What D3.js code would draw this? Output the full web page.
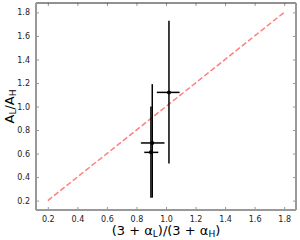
<!DOCTYPE html>
<html>
<head>
  <meta charset="utf-8">
  <script src="https://d3js.org/d3.v7.min.js"></script>
  <style>
    body { margin: 0; background: #fff; }
    text { font-family: "DejaVu Sans", sans-serif; }
  </style>
</head>
<body>
  <svg id="viz"></svg>
  <script>
    var width = 300, height = 240;
    var margin = { top: 3, right: 4, bottom: 30, left: 36 };

    // data
    var xVals = [1.02, 0.907, 0.898];
    var yVals = [1.12, 0.69, 0.61];
    var xLo = [0.938, 0.83, 0.853];
    var xHi = [1.092, 0.99, 0.948];
    var yLo = [0.515, 0.225, 0.225];
    var yHi = [1.73, 1.19, 1.0];
    var refLine = [0.2, 1.8];
    var ticks = [0.2, 0.4, 0.6, 0.8, 1.0, 1.2, 1.4, 1.6, 1.8];

    var pts = xVals.map(function(d, i) {
      return { x: d, y: yVals[i], x0: xLo[i], x1: xHi[i], y0: yLo[i], y1: yHi[i] };
    });

    var svg = d3.select("#viz").attr("width", width).attr("height", height);

    var x = d3.scaleLinear().domain([0.12, 1.88]).range([margin.left, width - margin.right]);
    var y = d3.scaleLinear().domain([0.12, 1.88]).range([height - margin.bottom, margin.top]);

    var gray = "#999";

    // ticks
    svg.append("g").attr("transform", "translate(0," + y.range()[0] + ")")
      .call(d3.axisBottom(x).tickValues(ticks).tickSizeInner(-3).tickSizeOuter(0).tickPadding(6).tickFormat(d3.format(".1f")))
      .call(function(g) {
        g.select(".domain").remove();
        g.selectAll("line").attr("stroke", gray);
        g.selectAll("text").attr("font-size", 8).attr("fill", "#222");
      });
    svg.append("g").attr("transform", "translate(0," + y.range()[1] + ")")
      .call(d3.axisTop(x).tickValues(ticks).tickSizeInner(-3).tickSizeOuter(0).tickFormat(""))
      .call(function(g) {
        g.select(".domain").remove();
        g.selectAll("line").attr("stroke", gray);
      });
    svg.append("g").attr("transform", "translate(" + x.range()[0] + ",0)")
      .call(d3.axisLeft(y).tickValues(ticks).tickSizeInner(-3).tickSizeOuter(0).tickPadding(6).tickFormat(d3.format(".1f")))
      .call(function(g) {
        g.select(".domain").remove();
        g.selectAll("line").attr("stroke", gray);
        g.selectAll("text").attr("font-size", 8).attr("fill", "#222");
      });
    svg.append("g").attr("transform", "translate(" + x.range()[1] + ",0)")
      .call(d3.axisRight(y).tickValues(ticks).tickSizeInner(-3).tickSizeOuter(0).tickFormat(""))
      .call(function(g) {
        g.select(".domain").remove();
        g.selectAll("line").attr("stroke", gray);
      });

    // frame
    var x0 = x.range()[0], x1 = x.range()[1], yb = y.range()[0], yt = y.range()[1];
    svg.append("line").attr("x1", x0).attr("x2", x1).attr("y1", yt).attr("y2", yt)
      .attr("stroke", "#222").attr("stroke-width", 1);
    svg.append("line").attr("x1", x0).attr("x2", x0).attr("y1", yt).attr("y2", yb)
      .attr("stroke", gray).attr("stroke-width", 2);
    svg.append("line").attr("x1", x1).attr("x2", x1).attr("y1", yt).attr("y2", yb)
      .attr("stroke", gray).attr("stroke-width", 2);
    svg.append("line").attr("x1", x0).attr("x2", x1).attr("y1", yb).attr("y2", yb)
      .attr("stroke", gray).attr("stroke-width", 2);

    // reference line
    svg.append("line")
      .attr("x1", x(refLine[0])).attr("y1", y(refLine[0]))
      .attr("x2", x(refLine[1])).attr("y2", y(refLine[1]))
      .attr("stroke", "#ff7f7f").attr("stroke-width", 1.5)
      .attr("stroke-dasharray", "5.5,2.5");

    // error bars
    var g = svg.append("g");
    g.selectAll(".ey").data(pts).enter().append("line")
      .attr("x1", function(d) { return x(d.x); }).attr("x2", function(d) { return x(d.x); })
      .attr("y1", function(d) { return y(d.y0); }).attr("y2", function(d) { return y(d.y1); })
      .attr("stroke", "#000").attr("stroke-width", 1.5);
    g.selectAll(".ex").data(pts).enter().append("line")
      .attr("x1", function(d) { return x(d.x0); }).attr("x2", function(d) { return x(d.x1); })
      .attr("y1", function(d) { return y(d.y); }).attr("y2", function(d) { return y(d.y); })
      .attr("stroke", "#000").attr("stroke-width", 1.5);
    g.selectAll("circle").data(pts).enter().append("circle")
      .attr("cx", function(d) { return x(d.x); }).attr("cy", function(d) { return y(d.y); })
      .attr("r", 2).attr("fill", "#000");

    // axis labels
    var xl = svg.append("text").attr("x", (x0 + x1) / 2).attr("y", 235)
      .attr("text-anchor", "middle").attr("font-size", 13).attr("fill", "#000");
    xl.append("tspan").text("(3 + α");
    xl.append("tspan").attr("font-size", 9).attr("dy", 2).text("L");
    xl.append("tspan").attr("dy", -2).text(")/(3 + α");
    xl.append("tspan").attr("font-size", 9).attr("dy", 2).text("H");
    xl.append("tspan").attr("dy", -2).text(")");

    var yl = svg.append("text").attr("transform", "translate(14," + ((yt + yb) / 2) + ") rotate(-90)")
      .attr("text-anchor", "middle").attr("font-size", 13).attr("fill", "#000");
    yl.append("tspan").text("A");
    yl.append("tspan").attr("font-size", 9).attr("dy", 2).text("L");
    yl.append("tspan").attr("dy", -2).text("/A");
    yl.append("tspan").attr("font-size", 9).attr("dy", 2).text("H");
  </script>
</body>
</html>
